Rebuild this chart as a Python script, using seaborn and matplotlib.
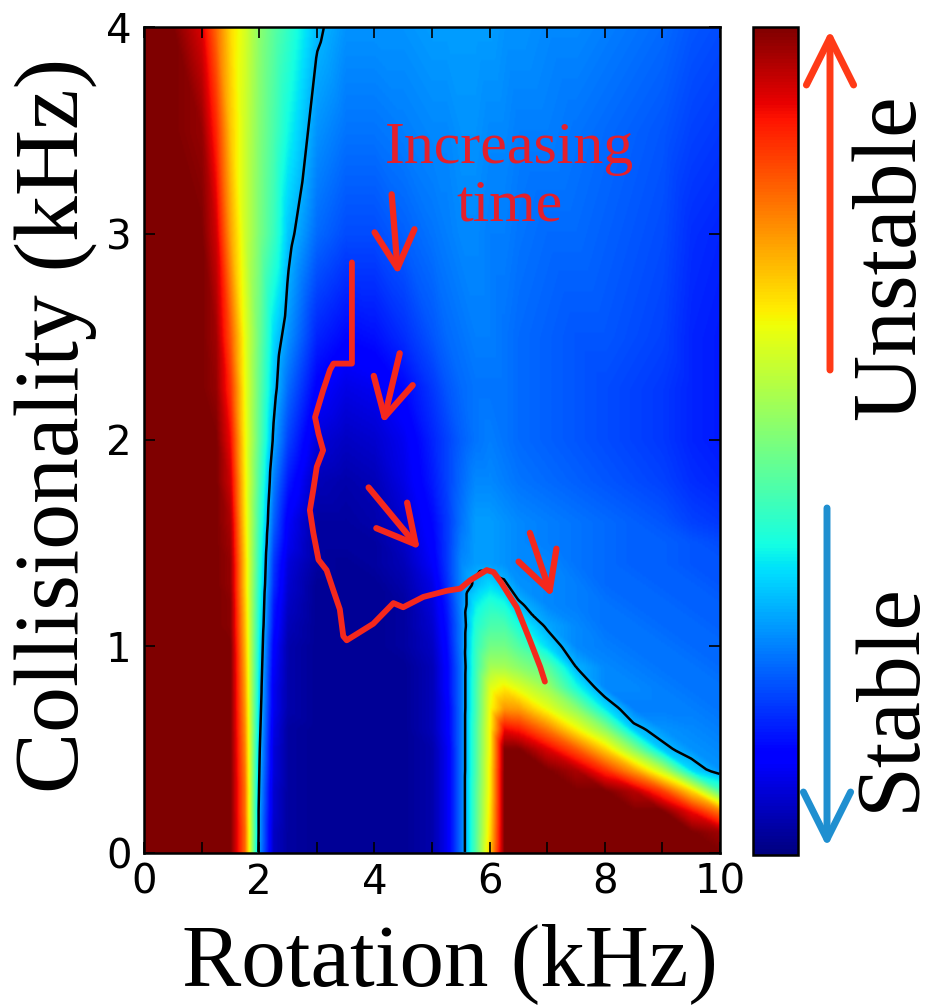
import numpy as np
import matplotlib
matplotlib.use("Agg")
import matplotlib.pyplot as plt
import matplotlib.tri as mtri
from matplotlib.ticker import MultipleLocator, NullFormatter
import seaborn as sns

# grid the colour map was read on (kHz)
rotation = [0, 0.5, 1.0, 1.25, 1.5, 1.75, 2.0, 2.25, 2.5, 3.0, 3.5, 4.0, 4.5,
            5.0, 5.25, 5.5, 5.75, 6.0, 6.25, 6.5, 7.0, 7.5, 8.0, 8.5, 9.0, 9.5, 10.0]
collisionality = [0.0, 0.1, 0.2, 0.3, 0.4, 0.5, 0.6, 0.7, 0.8, 0.9, 1.0, 1.1, 1.2,
                  1.3, 1.4, 1.5, 1.6, 1.8, 2.0, 2.25, 2.5, 3.0, 3.5, 4.0]

# colour level, 0 = most stable ... 100 = most unstable (one row per collisionality)
stability = [
    [100, 100, 100, 100, 100, 80, 27, 6, 3, 2, 2, 2, 2, 4, 10, 24, 45, 70, 100, 100, 100, 100, 100, 100, 100, 100, 100],
    [100, 100, 100, 100, 100, 80, 28, 6, 3, 2, 2, 2, 2, 4, 10, 24, 45, 68, 100, 100, 100, 100, 100, 100, 100, 100, 97],
    [100, 100, 100, 100, 100, 79, 28, 7, 3, 2, 2, 2, 2, 4, 10, 24, 45, 67, 100, 100, 100, 100, 100, 100, 100, 90, 78],
    [100, 100, 100, 100, 100, 79, 29, 7, 3, 2, 2, 2, 2, 4, 10, 24, 45, 66, 100, 100, 100, 100, 100, 95, 84, 68, 44],
    [100, 100, 100, 100, 100, 78, 30, 8, 3, 2, 2, 2, 2, 4, 10, 24, 44, 66, 100, 100, 100, 96, 86, 74, 58, 34, 27],
    [100, 100, 100, 100, 100, 77, 31, 8, 3, 2, 2, 2, 2, 4, 10, 24, 44, 65, 100, 100, 92, 82, 69, 52, 32, 27, 26],
    [100, 100, 100, 100, 100, 76, 32, 9, 3, 2, 2, 2, 2, 5, 11, 24, 44, 65, 90, 88, 78, 65, 52, 32, 27, 26, 25],
    [100, 100, 100, 100, 100, 75, 33, 10, 4, 2, 2, 2, 2, 5, 11, 24, 43, 64, 75, 74, 63, 52, 35, 25, 25, 25, 24],
    [100, 100, 100, 100, 100, 74, 34, 10, 4, 2, 2, 2, 2, 5, 12, 24, 43, 62, 66, 62, 54, 38, 26, 26, 25, 24, 24],
    [100, 100, 100, 100, 100, 73, 35, 11, 4, 2, 2, 2, 2, 5, 12, 24, 42, 55, 55, 52, 46, 30, 26, 25, 24, 24, 23],
    [100, 100, 100, 100, 100, 72, 36, 12, 4, 2, 2, 2, 3, 6, 13, 25, 41, 49, 49, 45, 34, 26, 25, 24, 24, 23, 23],
    [100, 100, 100, 100, 99, 71, 37, 14, 5, 2, 2, 2, 3, 7, 14, 25, 39, 44, 44, 38, 29, 26, 24, 24, 23, 23, 22],
    [100, 100, 100, 100, 99, 70, 38, 15, 6, 2, 2, 2, 3, 8, 15, 26, 36, 40, 38, 31, 26, 25, 24, 23, 23, 22, 22],
    [100, 100, 100, 100, 98, 69, 39, 17, 7, 2, 2, 2, 4, 9, 17, 26, 31, 34, 31, 27, 26, 25, 23, 23, 22, 22, 21],
    [100, 100, 100, 100, 98, 69, 40, 18, 8, 3, 2, 3, 5, 11, 18, 26, 28, 28, 27, 26, 26, 24, 23, 22, 22, 21, 21],
    [100, 100, 100, 100, 97, 68, 41, 20, 10, 3, 3, 3, 6, 12, 18, 25, 28, 28, 27, 26, 25, 24, 23, 22, 22, 21, 20],
    [100, 100, 100, 100, 96, 67, 42, 22, 11, 3, 3, 4, 7, 13, 18, 24, 28, 28, 27, 26, 25, 24, 23, 22, 21, 19, 18],
    [100, 100, 100, 100, 93, 66, 44, 25, 15, 5, 4, 5, 9, 15, 19, 23, 26, 26, 25, 24, 23, 22, 21, 20, 19, 17, 16],
    [100, 100, 100, 100, 90, 65, 46, 29, 19, 8, 6, 7, 10, 16, 19, 22, 24, 25, 24, 23, 22, 21, 20, 19, 18, 16, 15],
    [100, 100, 100, 98, 86, 64, 47, 32, 23, 12, 9, 10, 13, 18, 21, 23, 24, 24, 24, 23, 22, 21, 20, 19, 18, 16, 15],
    [100, 100, 100, 97, 82, 63, 48, 34, 27, 16, 13, 14, 17, 21, 23, 24, 25, 25, 24, 23, 22, 21, 21, 20, 19, 16, 15],
    [100, 100, 100, 93, 74, 60, 50, 42, 32, 23, 20, 20, 22, 24, 25, 26, 26, 25, 25, 24, 23, 23, 22, 21, 20, 17, 16],
    [100, 100, 98, 87, 70, 60, 51, 44, 37, 27, 24, 24, 25, 26, 26, 27, 27, 26, 26, 25, 25, 24, 23, 22, 21, 19, 18],
    [100, 100, 92, 80, 68, 61, 52, 46, 41, 31, 27, 27, 27, 28, 28, 28, 28, 28, 27, 27, 26, 26, 25, 24, 23, 21, 20],
]
marginal_level = 30

# measured path through the map
traj_rot = [3.61, 3.61, 3.29, 3.23, 3.11, 2.97, 3.03, 3.11, 3.00, 2.94, 2.88, 2.94, 3.03,
            3.17, 3.29, 3.40, 3.46, 3.52, 3.98, 4.33, 4.50, 4.85, 5.26, 5.49, 5.66, 5.95,
            6.07, 6.20, 6.47, 6.70, 6.88, 6.96]
traj_col = [2.86, 2.37, 2.37, 2.34, 2.24, 2.11, 2.03, 1.95, 1.87, 1.76, 1.66, 1.55, 1.42,
            1.37, 1.27, 1.18, 1.05, 1.03, 1.11, 1.21, 1.19, 1.24, 1.27, 1.28, 1.32, 1.37,
            1.36, 1.31, 1.19, 1.03, 0.90, 0.83]

# "increasing time" arrows: (tail, head) in data units
time_arrows = [((4.30, 3.19), (4.41, 2.80)),
               ((4.44, 2.42), (4.15, 2.08)),
               ((3.90, 1.77), (4.79, 1.47)),
               ((6.70, 1.55), (7.08, 1.24))]

cbar_ticks = [6.89, 20.17, 33.45, 46.73, 60.01, 73.29, 86.57, 99.85]

RED = "#f5281c"
SERIF = ["Liberation Serif", "DejaVu Serif"]

sns.set_theme(style="white")
plt.rcParams["font.family"] = ["DejaVu Sans"]

fig = plt.figure(figsize=(9.33, 10.08), dpi=100)
ax = fig.add_axes([0.1543, 0.1538, 0.6174, 0.8194])
cax = fig.add_axes([0.8071, 0.1518, 0.0482, 0.8214])

# triangulate the read-off grid (diagonals running down to the right)
ny, nx = len(collisionality), len(rotation)
X, Y = np.meshgrid(rotation, collisionality)
idx = np.arange(nx * ny).reshape(ny, nx)
tris = []
for j in range(ny - 1):
    for i in range(nx - 1):
        a, b = idx[j, i], idx[j, i + 1]
        c, d = idx[j + 1, i + 1], idx[j + 1, i]
        tris += [[a, b, d], [b, c, d]]
tri = mtri.Triangulation(X.ravel(), Y.ravel(), np.array(tris))
interp = mtri.LinearTriInterpolator(tri, np.array(stability, float).ravel())
xf = (np.arange(500) + 0.5) * 10 / 500
yf = (np.arange(400) + 0.5) * 4 / 400
XF, YF = np.meshgrid(xf, yf)
ZF = np.ma.filled(interp(XF, YF), np.nan)

im = ax.imshow(ZF, extent=[0, 10, 0, 4], origin="lower", aspect="auto",
               cmap="jet", vmin=0, vmax=100, interpolation="bilinear")
ax.contour(XF, YF, ZF, levels=[marginal_level], colors="black", linewidths=1.8)

sns.lineplot(x=traj_rot, y=traj_col, sort=False, estimator=None, color=RED,
             linewidth=4.2, ax=ax)

for tail, head in time_arrows:
    ax.annotate("", xy=head, xytext=tail,
                arrowprops=dict(arrowstyle="->,head_length=1.35,head_width=0.72",
                                color=RED, lw=4.5, mutation_scale=20,
                                shrinkA=0, shrinkB=0))

ax.text(6.35, 3.27, "Increasing\ntime", color="#e3202c", fontsize=43,
        family=SERIF, ha="center", va="center", linespacing=1.1)

ax.set_xlim(0, 10)
ax.set_ylim(0, 4)
ax.set_xlabel("")
ax.set_ylabel("")
ax.set_xticks([0, 2, 4, 6, 8, 10])
ax.set_yticks([0, 1, 2, 3, 4])
ax.xaxis.set_minor_locator(MultipleLocator(1))
ax.tick_params(which="both", direction="in", top=True, right=True, bottom=True,
               left=True, colors="black", labelsize=29, length=8, width=1.2)
ax.tick_params(axis="x", pad=7)
ax.tick_params(axis="y", pad=9)
for s in ax.spines.values():
    s.set_color("black")
    s.set_linewidth(1.8)

cb = fig.colorbar(im, cax=cax)
cb.set_ticks(cbar_ticks)
cax.yaxis.set_major_formatter(NullFormatter())
cax.tick_params(direction="in", length=9, width=1.2, right=True, left=False,
                colors="black")
cb.outline.set_edgecolor("black")
cb.outline.set_linewidth(1.8)

fig.text(0.482, 0.044, "Rotation (kHz)", fontsize=64, family=SERIF,
         ha="center", va="center", color="black")
fig.text(0.060, 0.578, "Collisionality (kHz)", fontsize=66, family=SERIF,
         rotation=90, ha="center", va="center", color="black")
fig.text(0.956, 0.745, "Unstable", fontsize=66, family=SERIF,
         rotation=90, ha="center", va="center", color="black")
fig.text(0.956, 0.3085, "Stable", fontsize=66, family=SERIF,
         rotation=90, ha="center", va="center", color="black")

ax.annotate("", xy=(830, 978), xycoords="figure pixels", xytext=(830, 638),
            textcoords="figure pixels", annotation_clip=False,
            arrowprops=dict(arrowstyle="->,head_length=1.7,head_width=0.85",
                            color="#ff3a17", lw=5, mutation_scale=20,
                            shrinkA=0, shrinkB=0))
ax.annotate("", xy=(827, 161), xycoords="figure pixels", xytext=(827, 500),
            textcoords="figure pixels", annotation_clip=False,
            arrowprops=dict(arrowstyle="->,head_length=1.7,head_width=0.85",
                            color="#1f8fd0", lw=5, mutation_scale=20,
                            shrinkA=0, shrinkB=0))

fig.savefig("out.png", dpi=100)
